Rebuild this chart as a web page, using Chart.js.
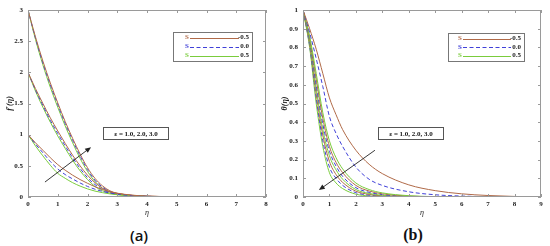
<!DOCTYPE html>
<html><head><meta charset="utf-8">
<script src="https://cdn.jsdelivr.net/npm/chart.js@4.4.0/dist/chart.umd.min.js"></script>
<style>
html,body{margin:0;padding:0;background:#fff;width:550px;height:246px;overflow:hidden}
.panel{position:absolute;top:0;width:275px;height:220px}
.cap{position:absolute;top:226px;width:40px;text-align:center;font-size:15px;line-height:18px;color:#111}
</style></head>
<body>
<div class="panel" style="left:0"><canvas id="ca" width="275" height="220"></canvas></div>
<div class="panel" style="left:275px"><canvas id="cb" width="275" height="220"></canvas></div>
<div class="cap" style="left:119px;font-family:'Open Sans',sans-serif;font-weight:600">(a)</div>
<div class="cap" style="left:393px;font-family:'Liberation Serif',serif;font-weight:bold;font-size:16px">(b)</div>
<script>
// ---------- Panel (a): f'(eta) ----------
const etaA = [0,0.25,0.5,0.75,1,1.25,1.5,1.75,2,2.25,2.5,2.75,3,3.5,4,5,6,7,8];
const a_e1_m05 = [1.00,0.87,0.75,0.63,0.52,0.43,0.35,0.28,0.22,0.165,0.12,0.085,0.06,0.03,0.014,0.005,0.001,0,0];
const a_e1_00  = [1.00,0.85,0.71,0.57,0.45,0.36,0.29,0.225,0.17,0.125,0.09,0.065,0.046,0.021,0.01,0.003,0.001,0,0];
const a_e1_05  = [1.00,0.82,0.66,0.51,0.38,0.30,0.23,0.175,0.13,0.095,0.07,0.05,0.036,0.016,0.008,0.002,0.001,0,0];
const a_e2_m05 = [2.00,1.74,1.50,1.27,1.06,0.86,0.67,0.50,0.35,0.23,0.14,0.085,0.055,0.025,0.012,0.004,0.001,0,0];
const a_e2_00  = [2.00,1.72,1.47,1.23,1.02,0.82,0.63,0.46,0.31,0.20,0.12,0.073,0.047,0.021,0.01,0.003,0.001,0,0];
const a_e2_05  = [2.00,1.70,1.44,1.20,0.98,0.78,0.59,0.42,0.28,0.17,0.10,0.062,0.04,0.018,0.008,0.003,0.001,0,0];
const a_e3_m05 = [3.00,2.57,2.18,1.83,1.51,1.21,0.94,0.69,0.47,0.30,0.18,0.10,0.06,0.027,0.013,0.004,0.001,0,0];
const a_e3_00  = [3.00,2.55,2.15,1.80,1.48,1.18,0.91,0.66,0.44,0.27,0.16,0.09,0.052,0.024,0.011,0.003,0.001,0,0];
const a_e3_05  = [3.00,2.53,2.12,1.76,1.44,1.14,0.87,0.62,0.41,0.25,0.14,0.08,0.045,0.02,0.009,0.003,0.001,0,0];
const xTicksA = ['0','1','2','3','4','5','6','7','8'];
const yTicksA = ['0','0.5','1','1.5','2','2.5','3'];
const arrowA = [[0.57,0.24],[2.12,0.80]];

// ---------- Panel (b): theta(eta) ----------
const etaB = [0,0.25,0.5,0.75,1,1.25,1.5,2,2.5,3,4,5,6,7,8,9];
const b_e1_m05 = [1,0.90,0.79,0.66,0.53,0.44,0.36,0.25,0.175,0.125,0.065,0.034,0.017,0.008,0.003,0];
const b_e1_00  = [1,0.88,0.74,0.59,0.43,0.34,0.27,0.16,0.095,0.062,0.028,0.012,0.005,0.002,0.001,0];
const b_e1_05  = [1,0.86,0.66,0.45,0.30,0.21,0.15,0.075,0.04,0.022,0.007,0.002,0.001,0,0,0];
const b_e2_m05 = [1,0.85,0.63,0.42,0.27,0.185,0.13,0.062,0.032,0.017,0.005,0.001,0,0,0,0];
const b_e2_00  = [1,0.84,0.60,0.39,0.245,0.165,0.11,0.05,0.025,0.013,0.003,0.001,0,0,0,0];
const b_e2_05  = [1,0.83,0.58,0.36,0.22,0.145,0.095,0.04,0.019,0.009,0.002,0,0,0,0,0];
const b_e3_m05 = [1,0.82,0.55,0.33,0.19,0.12,0.078,0.031,0.014,0.006,0.001,0,0,0,0,0];
const b_e3_00  = [1,0.81,0.53,0.30,0.16,0.10,0.062,0.023,0.01,0.004,0.001,0,0,0,0,0];
const b_e3_05  = [1,0.80,0.50,0.27,0.13,0.075,0.045,0.015,0.006,0.002,0,0,0,0,0,0];
const xTicksB = ['0','1','2','3','4','5','6','7','8','9'];
const yTicksB = ['0','0.1','0.2','0.3','0.4','0.5','0.6','0.7','0.8','0.9','1'];
const arrowB = [[2.72,0.25],[0.6,0.037]];

const legendS = ['-0.5','0.0','0.5'];
const epsLabel = '\u03B5 = 1.0, 2.0, 3.0';

const COL = ['#b06a48','#4040d8','#7acc3c'];
const DASH = [[],[4,2.5],[]];
const SERIF = "'Liberation Serif','Times New Roman',serif";

function mk(eta, ys, si){
  return {data: eta.map((x,i)=>({x:x,y:ys[i]})), borderColor: COL[si], borderDash: DASH[si],
    borderWidth: 1, pointRadius: 0, fill:false, cubicInterpolationMode:'monotone'};
}

const deco = {
  id:'deco',
  afterDatasetsDraw(chart, args, o){
    const ctx = chart.ctx, ca = chart.chartArea, xs = chart.scales.x, ys = chart.scales.y;
    ctx.save();
    // frame
    ctx.strokeStyle = '#9a9a9a'; ctx.lineWidth = 1;
    ctx.strokeRect(Math.round(ca.left)+0.5, Math.round(ca.top)+0.5, Math.round(ca.right-ca.left)-1, Math.round(ca.bottom-ca.top)-1);
    // inward ticks
    ctx.beginPath();
    xs.ticks.forEach(t=>{ const p = Math.round(xs.getPixelForValue(t.value))+0.5;
      ctx.moveTo(p, ca.bottom); ctx.lineTo(p, ca.bottom-3);
      ctx.moveTo(p, ca.top); ctx.lineTo(p, ca.top+3); });
    ys.ticks.forEach(t=>{ const p = Math.round(ys.getPixelForValue(t.value))+0.5;
      ctx.moveTo(ca.left, p); ctx.lineTo(ca.left+3, p);
      ctx.moveTo(ca.right, p); ctx.lineTo(ca.right-3, p); });
    ctx.stroke();
    // legend box
    const L = o.legend;
    ctx.fillStyle = '#fff'; ctx.fillRect(L.x, L.y, L.w, L.h);
    ctx.strokeStyle = '#777'; ctx.lineWidth = 1;
    ctx.strokeRect(L.x+0.5, L.y+0.5, L.w, L.h);
    ctx.font = 'bold 7px ' + SERIF; ctx.textBaseline = 'middle';
    legendS.forEach((lab,i)=>{
      const yy = L.y + L.r0 + i*L.dr;
      ctx.fillStyle = COL[i]; ctx.textAlign = 'left';
      ctx.fillText('S', L.x+L.sx, yy);
      ctx.strokeStyle = COL[i]; ctx.setLineDash(DASH[i]); ctx.lineWidth = 1;
      ctx.beginPath(); ctx.moveTo(L.x+L.l0, Math.round(yy)+0.5); ctx.lineTo(L.x+L.l1, Math.round(yy)+0.5); ctx.stroke();
      ctx.setLineDash([]);
      ctx.fillStyle = '#222'; ctx.textAlign = 'right';
      ctx.fillText(lab, L.x+L.w-3, yy);
    });
    // epsilon box
    const E = o.eps;
    ctx.fillStyle = '#fff'; ctx.fillRect(E.x, E.y, E.w, E.h);
    ctx.strokeStyle = '#555'; ctx.strokeRect(E.x+0.5, E.y+0.5, E.w, E.h);
    ctx.fillStyle = '#111'; ctx.textAlign = 'center'; ctx.font = 'bold 7px ' + SERIF;
    ctx.fillText(epsLabel, E.x+E.w/2+0.5, E.y+E.h/2+1);
    // arrow
    const A = o.arrow;
    const x1 = xs.getPixelForValue(A[0][0]), y1 = ys.getPixelForValue(A[0][1]);
    const x2 = xs.getPixelForValue(A[1][0]), y2 = ys.getPixelForValue(A[1][1]);
    const ang = Math.atan2(y2-y1, x2-x1), hl = 6, hw = 2.5;
    ctx.strokeStyle = '#222'; ctx.fillStyle = '#222'; ctx.lineWidth = 0.9;
    ctx.beginPath(); ctx.moveTo(x1,y1); ctx.lineTo(x2-Math.cos(ang)*hl*0.8, y2-Math.sin(ang)*hl*0.8); ctx.stroke();
    ctx.beginPath(); ctx.moveTo(x2,y2);
    ctx.lineTo(x2-Math.cos(ang)*hl - Math.sin(ang)*hw, y2-Math.sin(ang)*hl + Math.cos(ang)*hw);
    ctx.lineTo(x2-Math.cos(ang)*hl + Math.sin(ang)*hw, y2-Math.sin(ang)*hl - Math.cos(ang)*hw);
    ctx.closePath(); ctx.fill();
    ctx.restore();
  }
};

function build(id, eta, series, xmax, ymax, ystep, xLabels, yLabels, yTitle, opts){
  const datasets = series.map((s,i)=>mk(eta, s, i%3));
  return new Chart(document.getElementById(id), {
    type:'line',
    data:{datasets},
    plugins:[deco],
    options:{
      responsive:false, animation:false, events:[],
      layout:{padding:{top:10,right:9,left:0,bottom:0}},
      plugins:{legend:{display:false}, tooltip:{enabled:false}, deco:opts},
      scales:{
        x:{type:'linear', min:0, max:xmax,
          grid:{display:false, drawTicks:false}, border:{display:false},
          ticks:{stepSize:1, padding:3, color:'#222', font:{family:SERIF, size:7, weight:'bold'},
            callback:(v,i)=>xLabels[i], maxRotation:0, autoSkip:false},
          title:{display:true, text:'\u03B7', color:'#222', font:{family:SERIF, size:8, style:'italic'}, padding:{top:0,bottom:2}},
          afterFit:s=>{s.height=23;}},
        y:{type:'linear', min:0, max:ymax,
          grid:{display:false, drawTicks:false}, border:{display:false},
          ticks:{stepSize:ystep, padding:5, color:'#222', font:{family:SERIF, size:7, weight:'bold'},
            callback:(v,i)=>yLabels[i], autoSkip:false},
          title:{display:true, text:yTitle, color:'#222', font:{family:SERIF, size:8, style:'italic', weight:'bold'}, padding:{top:5,bottom:0}},
          afterFit:s=>{s.width=28;}}
      }
    }
  });
}

build('ca', etaA,
  [a_e1_m05,a_e1_00,a_e1_05,a_e2_m05,a_e2_00,a_e2_05,a_e3_m05,a_e3_00,a_e3_05],
  8, 3, 0.5, xTicksA, yTicksA, 'f\u2032(\u03B7)',
  {legend:{x:173,y:32,w:79,h:29,sx:12,l0:17,l1:66,r0:5.5,dr:9}, eps:{x:103,y:127,w:65,h:12}, arrow:arrowA});

build('cb', etaB,
  [b_e1_m05,b_e1_00,b_e1_05,b_e2_m05,b_e2_00,b_e2_05,b_e3_m05,b_e3_00,b_e3_05],
  9, 1, 0.1, xTicksB, yTicksB, '\u03B8(\u03B7)',
  {legend:{x:173,y:33,w:76,h:28,sx:10,l0:15,l1:63,r0:5.5,dr:8.5}, eps:{x:103,y:127,w:65,h:12}, arrow:arrowB});
</script>
</body></html>
